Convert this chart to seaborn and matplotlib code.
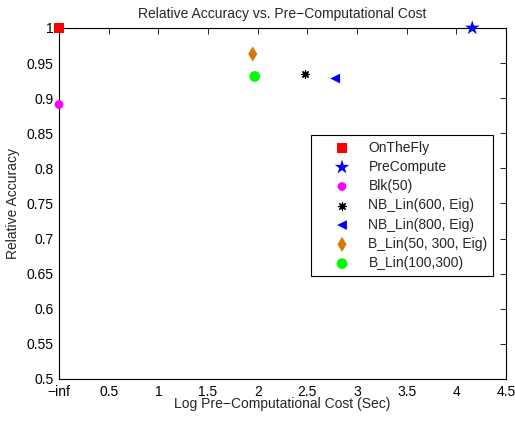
import matplotlib
matplotlib.use("Agg")
import matplotlib.pyplot as plt
import seaborn as sns
import pandas as pd

methods = ["OnTheFly", "PreCompute", "Blk(50)", "NB_Lin(600, Eig)",
           "NB_Lin(800, Eig)", "B_Lin(50, 300, Eig)", "B_Lin(100,300)"]
log_cost = [0.0, 4.16, 0.0, 2.48, 2.78, 1.95, 1.97]
accuracy = [1.0, 1.0, 0.891, 0.934, 0.928, 0.963, 0.931]
colors = ["#ff0000", "#0000ff", "#ff00ff", "#000000", "#0000ff", "#d9770f", "#00ff00"]
markers = ["s", "*", "o", (8, 2, 0), "<", "d", "o"]
sizes = [45, 120, 40, 28, 50, 60, 60]

x_ticks = [0, 0.5, 1, 1.5, 2, 2.5, 3, 3.5, 4, 4.5]
x_labels = ["\u2212inf", "0.5", "1", "1.5", "2", "2.5", "3", "3.5", "4", "4.5"]
y_ticks = [0.5, 0.55, 0.6, 0.65, 0.7, 0.75, 0.8, 0.85, 0.9, 0.95, 1.0]
y_labels = ["0.5", "0.55", "0.6", "0.65", "0.7", "0.75", "0.8", "0.85", "0.9", "0.95", "1"]

df = pd.DataFrame({"method": methods, "cost": log_cost, "acc": accuracy})

sns.set_style("white")
plt.rcParams["font.family"] = ["Liberation Sans", "DejaVu Sans"]
plt.rcParams["font.size"] = 10

fig = plt.figure(figsize=(5.15, 4.21), dpi=100)
ax = fig.add_axes([0.1146, 0.0998, 0.868, 0.8337])

for i, row in df.iterrows():
    sub = df.iloc[[i]]
    ms = markers[i]
    if i == 3:
        kw = dict(edgecolor=colors[i], linewidth=0.9)
    else:
        kw = dict(edgecolor="none")
    sns.scatterplot(data=sub, x="cost", y="acc", ax=ax, color=colors[i], marker=ms,
                    s=sizes[i], label=row["method"], clip_on=False, zorder=3, **kw)

ax.set_xlim(0, 4.5)
ax.set_ylim(0.5, 1.0)
ax.set_xticks(x_ticks)
ax.set_xticklabels(x_labels)
ax.set_yticks(y_ticks)
ax.set_yticklabels(y_labels)
ax.tick_params(direction="in", top=True, right=True, length=4, width=0.6,
               labelsize=10, colors="black")
ax.tick_params(axis="x", pad=4)
ax.tick_params(axis="y", pad=4)
for s in ax.spines.values():
    s.set_visible(True)
    s.set_color("black")
    s.set_linewidth(0.8)

ax.set_title("Relative Accuracy vs. Pre\u2212Computational Cost", fontsize=10, pad=7)
ax.set_xlabel("Log Pre\u2212Computational Cost (Sec)", fontsize=10, labelpad=-1)
ax.set_ylabel("Relative Accuracy", fontsize=10, labelpad=5)

leg = ax.legend(loc="upper right", bbox_to_anchor=(0.971, 0.695), frameon=True,
                fancybox=False, edgecolor="black", framealpha=1, fontsize=10,
                handlelength=3.7, handletextpad=0.05, borderpad=0.4,
                labelspacing=0.38, borderaxespad=0)
leg.get_frame().set_linewidth(0.8)

fig.savefig("out.png", dpi=100)
